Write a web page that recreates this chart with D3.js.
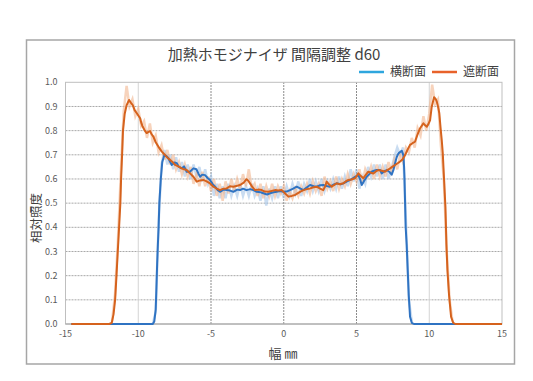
<!DOCTYPE html>
<html>
<head>
<meta charset="utf-8">
<script src="https://cdn.jsdelivr.net/npm/d3@7"></script>
<style>
  body { margin: 0; background: #fff; }
  text { font-family: "Noto Sans CJK JP", "Noto Sans", sans-serif; }
</style>
</head>
<body>
<div id="chart"></div>
<script>
// smoothed curves (x mm, relative illuminance)
let blueX = [-14.6, -9.0, -8.9, -8.8, -8.75, -8.7, -8.65, -8.6, -8.55, -8.45, -8.35, -8.2, -8.05, -7.93, -7.7, -7.5, -7.35, -7.2, -7.01, -6.85, -6.67, -6.45, -6.21, -6.0, -5.87, -5.75, -5.6, -5.41, -5.25, -5.07, -4.9, -4.72, -4.55, -4.38, -4.15, -3.92, -3.7, -3.46, -3.2, -3.0, -2.8, -2.56, -2.3, -2.09, -1.86, -1.6, -1.4, -1.15, -0.94, -0.7, -0.48, -0.25, -0.02, 0.2, 0.43, 0.65, 0.89, 1.12, 1.35, 1.6, 1.81, 2.05, 2.27, 2.5, 2.72, 2.95, 3.18, 3.4, 3.64, 3.9, 4.1, 4.35, 4.58, 4.75, 4.9, 5.13, 5.25, 5.36, 5.5, 5.7, 5.93, 6.04, 6.2, 6.39, 6.62, 6.73, 6.9, 7.08, 7.25, 7.42, 7.55, 7.65, 7.76, 7.88, 8.11, 8.22, 8.27, 8.3, 8.34, 8.38, 8.45, 8.52, 8.59, 8.68, 8.8, 8.95, 15];
let blueY = [0, 0, 0.01, 0.06, 0.15, 0.25, 0.33, 0.40, 0.50, 0.60, 0.67, 0.70, 0.695, 0.686, 0.658, 0.668, 0.665, 0.650, 0.644, 0.652, 0.630, 0.630, 0.644, 0.640, 0.623, 0.609, 0.618, 0.616, 0.605, 0.596, 0.580, 0.568, 0.555, 0.547, 0.556, 0.554, 0.552, 0.547, 0.556, 0.554, 0.560, 0.554, 0.558, 0.554, 0.547, 0.545, 0.541, 0.536, 0.541, 0.545, 0.547, 0.550, 0.547, 0.548, 0.554, 0.560, 0.568, 0.561, 0.554, 0.566, 0.575, 0.570, 0.568, 0.574, 0.575, 0.571, 0.568, 0.576, 0.582, 0.578, 0.582, 0.590, 0.596, 0.603, 0.609, 0.616, 0.598, 0.575, 0.590, 0.609, 0.623, 0.630, 0.634, 0.637, 0.637, 0.623, 0.632, 0.637, 0.630, 0.618, 0.640, 0.665, 0.690, 0.706, 0.717, 0.699, 0.65, 0.60, 0.50, 0.40, 0.327, 0.223, 0.12, 0.03, 0.005, 0, 0];

let orangeX = [-14.6, -12.0, -11.82, -11.7, -11.59, -11.5, -11.41, -11.32, -11.23, -11.18, -11.11, -11.05, -10.93, -10.8, -10.63, -10.5, -10.38, -10.25, -10.1, -9.87, -9.78, -9.69, -9.55, -9.42, -9.3, -9.19, -9.08, -8.96, -8.8, -8.62, -8.38, -8.16, -8.0, -7.81, -7.6, -7.47, -7.25, -7.01, -6.85, -6.67, -6.44, -6.21, -5.98, -5.75, -5.53, -5.3, -5.07, -4.84, -4.6, -4.38, -4.15, -3.92, -3.7, -3.46, -3.2, -3.0, -2.75, -2.56, -2.45, -2.32, -2.15, -1.97, -1.75, -1.51, -1.3, -1.06, -0.85, -0.6, -0.38, -0.14, 0.1, 0.32, 0.55, 0.78, 1.12, 1.35, 1.6, 1.81, 2.05, 2.27, 2.5, 2.72, 2.85, 2.95, 3.1, 3.3, 3.45, 3.64, 3.85, 4.1, 4.25, 4.44, 4.65, 4.9, 5.0, 5.13, 5.3, 5.47, 5.65, 5.81, 6.0, 6.16, 6.35, 6.5, 6.75, 6.96, 7.15, 7.31, 7.5, 7.65, 7.85, 7.99, 8.15, 8.34, 8.5, 8.68, 8.85, 9.02, 9.2, 9.37, 9.6, 9.72, 9.83, 9.95, 10.06, 10.17, 10.33, 10.45, 10.52, 10.62, 10.69, 10.79, 10.86, 10.93, 11.02, 11.11, 11.14, 11.18, 11.25, 11.36, 11.5, 11.65, 11.8, 15];
let orangeY = [0, 0, 0.005, 0.04, 0.10, 0.196, 0.297, 0.397, 0.50, 0.60, 0.70, 0.80, 0.87, 0.905, 0.927, 0.915, 0.906, 0.885, 0.872, 0.851, 0.830, 0.816, 0.800, 0.790, 0.795, 0.798, 0.785, 0.775, 0.752, 0.734, 0.713, 0.699, 0.688, 0.679, 0.668, 0.658, 0.652, 0.644, 0.640, 0.637, 0.623, 0.609, 0.589, 0.594, 0.596, 0.590, 0.582, 0.568, 0.560, 0.554, 0.560, 0.561, 0.570, 0.568, 0.572, 0.575, 0.585, 0.599, 0.594, 0.582, 0.566, 0.554, 0.556, 0.554, 0.548, 0.547, 0.550, 0.554, 0.552, 0.554, 0.540, 0.527, 0.530, 0.534, 0.547, 0.554, 0.558, 0.561, 0.566, 0.568, 0.560, 0.554, 0.570, 0.589, 0.578, 0.568, 0.575, 0.582, 0.578, 0.582, 0.590, 0.596, 0.598, 0.603, 0.612, 0.623, 0.612, 0.603, 0.618, 0.630, 0.626, 0.623, 0.632, 0.637, 0.634, 0.630, 0.638, 0.644, 0.652, 0.658, 0.666, 0.672, 0.680, 0.699, 0.720, 0.741, 0.748, 0.754, 0.785, 0.81, 0.830, 0.822, 0.816, 0.828, 0.844, 0.899, 0.938, 0.930, 0.920, 0.895, 0.872, 0.803, 0.76, 0.706, 0.596, 0.485, 0.42, 0.33, 0.223, 0.12, 0.03, 0.005, 0, 0];

// raw (unsmoothed) readings, faint lines
let blueRaw = [[-9.0, 0.0], [-8.8, 0.05], [-8.6, 0.42], [-8.4, 0.66], [-8.2, 0.72], [-8.0, 0.66], [-7.8, 0.70], [-7.6, 0.64], [-7.4, 0.69], [-7.2, 0.63], [-7.0, 0.67], [-6.8, 0.61], [-6.6, 0.66], [-6.4, 0.60], [-6.2, 0.66], [-6.0, 0.61], [-5.8, 0.65], [-5.6, 0.59], [-5.4, 0.64], [-5.2, 0.58], [-5.0, 0.61], [-4.8, 0.53], [-4.6, 0.58], [-4.4, 0.52], [-4.2, 0.57], [-4.0, 0.52], [-3.8, 0.58], [-3.6, 0.53], [-3.4, 0.57], [-3.2, 0.53], [-3.0, 0.58], [-2.8, 0.53], [-2.6, 0.57], [-2.4, 0.53], [-2.2, 0.58], [-2.0, 0.53], [-1.8, 0.56], [-1.6, 0.51], [-1.4, 0.57], [-1.2, 0.49], [-1.0, 0.56], [-0.8, 0.52], [-0.6, 0.57], [-0.4, 0.52], [-0.2, 0.57], [0.0, 0.52], [0.2, 0.57], [0.4, 0.53], [0.6, 0.58], [0.8, 0.54], [1.0, 0.59], [1.2, 0.53], [1.4, 0.58], [1.6, 0.55], [1.8, 0.60], [2.0, 0.55], [2.2, 0.59], [2.4, 0.55], [2.6, 0.60], [2.8, 0.55], [3.0, 0.59], [3.2, 0.56], [3.4, 0.60], [3.6, 0.56], [3.8, 0.61], [4.0, 0.56], [4.2, 0.61], [4.4, 0.57], [4.6, 0.64], [4.8, 0.59], [5.0, 0.64], [5.2, 0.56], [5.4, 0.61], [5.6, 0.58], [5.8, 0.65], [6.0, 0.61], [6.2, 0.66], [6.4, 0.61], [6.6, 0.66], [6.8, 0.60], [7.0, 0.66], [7.2, 0.60], [7.4, 0.64], [7.6, 0.69], [7.8, 0.73], [8.0, 0.70], [8.2, 0.73], [8.4, 0.42], [8.6, 0.10], [8.8, 0.01]];
let orangeRaw = [[-11.8, 0.01], [-11.6, 0.12], [-11.4, 0.34], [-11.2, 0.62], [-11.0, 0.88], [-10.8, 0.985], [-10.6, 0.90], [-10.4, 0.93], [-10.2, 0.86], [-10.0, 0.89], [-9.8, 0.82], [-9.6, 0.84], [-9.4, 0.77], [-9.2, 0.83], [-9.0, 0.75], [-8.8, 0.78], [-8.6, 0.71], [-8.4, 0.74], [-8.2, 0.68], [-8.0, 0.72], [-7.8, 0.66], [-7.6, 0.70], [-7.4, 0.64], [-7.2, 0.67], [-7.0, 0.62], [-6.8, 0.66], [-6.6, 0.61], [-6.4, 0.65], [-6.2, 0.58], [-6.0, 0.62], [-5.8, 0.57], [-5.6, 0.63], [-5.4, 0.57], [-5.2, 0.61], [-5.0, 0.55], [-4.8, 0.60], [-4.6, 0.53], [-4.4, 0.58], [-4.2, 0.51], [-4.0, 0.59], [-3.8, 0.54], [-3.6, 0.60], [-3.4, 0.55], [-3.2, 0.60], [-3.0, 0.56], [-2.8, 0.62], [-2.6, 0.57], [-2.4, 0.64], [-2.2, 0.56], [-2.0, 0.58], [-1.8, 0.53], [-1.6, 0.58], [-1.4, 0.52], [-1.2, 0.57], [-1.0, 0.53], [-0.8, 0.58], [-0.6, 0.53], [-0.4, 0.57], [-0.2, 0.54], [0.0, 0.57], [0.2, 0.51], [0.4, 0.55], [0.6, 0.52], [0.8, 0.56], [1.0, 0.53], [1.2, 0.57], [1.4, 0.54], [1.6, 0.58], [1.8, 0.54], [2.0, 0.59], [2.2, 0.55], [2.4, 0.58], [2.6, 0.53], [2.8, 0.61], [3.0, 0.56], [3.2, 0.59], [3.4, 0.55], [3.6, 0.61], [3.8, 0.56], [4.0, 0.60], [4.2, 0.57], [4.4, 0.62], [4.6, 0.58], [4.8, 0.62], [5.0, 0.59], [5.2, 0.64], [5.4, 0.58], [5.6, 0.64], [5.8, 0.61], [6.0, 0.65], [6.2, 0.60], [6.4, 0.66], [6.6, 0.61], [6.8, 0.65], [7.0, 0.61], [7.2, 0.67], [7.4, 0.63], [7.6, 0.68], [7.8, 0.64], [8.0, 0.70], [8.2, 0.67], [8.4, 0.73], [8.6, 0.71], [8.8, 0.77], [9.0, 0.73], [9.2, 0.81], [9.4, 0.78], [9.6, 0.86], [9.8, 0.80], [10.0, 0.87], [10.2, 0.99], [10.4, 0.91], [10.6, 0.93], [10.8, 0.74], [11.0, 0.60], [11.2, 0.30], [11.4, 0.10], [11.6, 0.01]];

let xTicks = [-15, -10, -5, 0, 5, 10, 15];
let yTicks = [0, 0.1, 0.2, 0.3, 0.4, 0.5, 0.6, 0.7, 0.8, 0.9, 1.0];
let seriesNames = ["横断面", "遮断面"];

let W = 533, H = 381;
let svg = d3.select("#chart").append("svg")
    .attr("width", W)
    .attr("height", H);

// outer frame
svg.append("rect")
    .attr("x", 26.5).attr("y", 40)
    .attr("width", 488).attr("height", 324)
    .attr("fill", "#fff")
    .attr("stroke", "#a6a6a6")
    .attr("stroke-width", 1.5);

let x = d3.scaleLinear().domain([-15, 15]).range([65.5, 502]);
let y = d3.scaleLinear().domain([0, 1]).range([324, 82.3]);

// grid
let grid = svg.append("g");
grid.selectAll(".hg")
    .data(yTicks.filter(d => d > 0 && d < 1))
    .join("line")
    .attr("x1", x(-15)).attr("x2", x(15))
    .attr("y1", d => y(d)).attr("y2", d => y(d))
    .attr("stroke", "#a8a8a8")
    .attr("stroke-width", 1)
    .attr("stroke-dasharray", "2,1");
grid.selectAll(".vg")
    .data(xTicks.filter(d => d > -15 && d < 15))
    .join("line")
    .attr("x1", d => x(d)).attr("x2", d => x(d))
    .attr("y1", y(0)).attr("y2", y(1))
    .attr("stroke", d => Math.abs(d) == 10 ? "#d4d4d4" : "#8c8c8c")
    .attr("stroke-width", 1)
    .attr("stroke-dasharray", d => Math.abs(d) == 10 ? null : "2,1");
svg.append("rect")
    .attr("x", x(-15)).attr("y", y(1))
    .attr("width", x(15) - x(-15)).attr("height", y(0) - y(1))
    .attr("fill", "none")
    .attr("stroke", "#bfbfbf");
svg.append("line")
    .attr("x1", x(-15)).attr("x2", x(15))
    .attr("y1", y(0)).attr("y2", y(0))
    .attr("stroke", "#a0a0a0");

// tick labels
svg.append("g")
    .selectAll("text")
    .data(yTicks)
    .join("text")
    .attr("x", 57.5)
    .attr("y", d => y(d))
    .attr("dy", "0.35em")
    .attr("text-anchor", "end")
    .attr("font-size", 9)
    .attr("fill", "#595959")
    .text(d => d.toFixed(1));
svg.append("g")
    .selectAll("text")
    .data(xTicks)
    .join("text")
    .attr("x", d => x(d))
    .attr("y", 336.5)
    .attr("text-anchor", "middle")
    .attr("font-size", 9)
    .attr("fill", "#595959")
    .text(d => d);

// lines
let line = d3.line().x(d => x(d[0])).y(d => y(d[1]));
let bluePts = blueX.map((d, i) => [d, blueY[i]]);
let orangePts = orangeX.map((d, i) => [d, orangeY[i]]);

svg.append("path")
    .attr("d", line(blueRaw))
    .attr("fill", "none")
    .attr("stroke", "#9dbfe6")
    .attr("stroke-width", 2.5)
    .attr("stroke-opacity", 0.55);
svg.append("path")
    .attr("d", line(orangeRaw))
    .attr("fill", "none")
    .attr("stroke", "#f2b58f")
    .attr("stroke-width", 2.5)
    .attr("stroke-opacity", 0.6);
svg.append("path")
    .attr("d", line(bluePts))
    .attr("fill", "none")
    .attr("stroke", "#2f73c2")
    .attr("stroke-width", 2)
    .attr("stroke-linejoin", "round");
svg.append("path")
    .attr("d", line(orangePts))
    .attr("fill", "none")
    .attr("stroke", "#d5621d")
    .attr("stroke-width", 2)
    .attr("stroke-linejoin", "round");

// title
svg.append("text")
    .attr("x", 274).attr("y", 60)
    .attr("text-anchor", "middle")
    .attr("font-size", 15)
    .attr("fill", "#404040")
    .text("加熱ホモジナイザ 間隔調整 d60");

// legend
let legendColors = ["#2ea6de", "#e8622a"];
let legendX = [359, 432];
let lg = svg.append("g");
seriesNames.forEach(function(name, i){
    lg.append("line")
        .attr("x1", legendX[i]).attr("x2", legendX[i] + 25)
        .attr("y1", 72).attr("y2", 72)
        .attr("stroke", legendColors[i])
        .attr("stroke-width", 2.5);
    lg.append("text")
        .attr("x", legendX[i] + 31).attr("y", 72)
        .attr("dy", "0.35em")
        .attr("font-size", 12)
        .attr("fill", "#404040")
        .text(name);
});

// axis titles
svg.append("text")
    .attr("transform", "translate(37,218) rotate(-90)")
    .attr("text-anchor", "middle")
    .attr("dy", "0.35em")
    .attr("font-size", 12.5)
    .attr("fill", "#404040")
    .text("相対照度");
svg.append("text")
    .attr("x", 283).attr("y", 358)
    .attr("text-anchor", "middle")
    .attr("font-size", 13)
    .attr("fill", "#404040")
    .text("幅 ㎜");
</script>
</body>
</html>
